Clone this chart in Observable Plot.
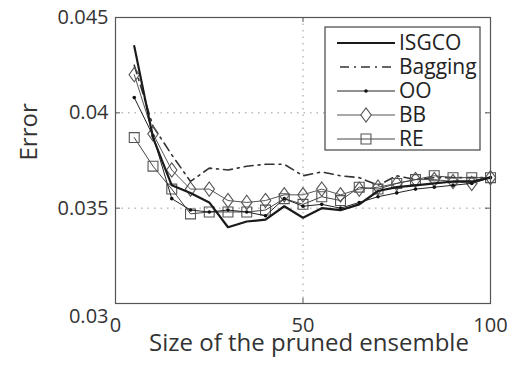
<!DOCTYPE html>
<html><head><meta charset="utf-8">
<script src="https://cdn.jsdelivr.net/npm/d3@7"></script>
<script src="https://cdn.jsdelivr.net/npm/@observablehq/plot@0.6"></script>
<style>body{margin:0;background:#fff;}</style>
</head><body><div id="chart"></div>
<script>
const sizes   = [5,10,15,20,25,30,35,40,45,50,55,60,65,70,75,80,85,90,95,100];
const ISGCO   = [0.0435,0.0387,0.0362,0.0358,0.0353,0.0340,0.0343,0.0344,0.0351,0.0345,0.0350,0.0349,0.0352,0.0359,0.0361,0.0362,0.0363,0.0364,0.0364,0.0366];
const Bagging = [0.0425,0.0393,0.0378,0.0364,0.0371,0.0370,0.0372,0.0373,0.0373,0.0367,0.0369,0.0367,0.0366,0.0362,0.0367,0.0365,0.0366,0.0366,0.0366,0.0366];
const OO      = [0.0408,0.0388,0.0355,0.0349,0.0348,0.0349,0.0348,0.0346,0.0355,0.0351,0.0352,0.0350,0.0353,0.0356,0.0358,0.0360,0.0361,0.0362,0.0363,0.0366];
const BB      = [0.0420,0.0389,0.0370,0.0360,0.0360,0.0354,0.0353,0.0354,0.0357,0.0357,0.0360,0.0357,0.0360,0.0361,0.0363,0.0365,0.0365,0.0364,0.0363,0.0366];
const RE      = [0.0387,0.0372,0.0360,0.0347,0.0348,0.0348,0.0348,0.0349,0.0355,0.0352,0.0356,0.0354,0.0361,0.0360,0.0363,0.0365,0.0367,0.0366,0.0366,0.0366];
const seriesNames = ["ISGCO","Bagging","OO","BB","RE"];
const xTicks = [0,50,100];
const yTicks = [0.03,0.035,0.04,0.045];
const xLabel = "Size of the pruned ensemble";
const yLabel = "Error";

const rows = (name, vals) => sizes.map((x,i)=>({x, y: vals[i], s: name}));
const dISG = rows("ISGCO", ISGCO), dBag = rows("Bagging", Bagging), dOO = rows("OO", OO), dBB = rows("BB", BB), dRE = rows("RE", RE);

const W=523, H=370, mL=115, mR=33, mT=17, mB=67;
const ph = H-mT-mB, pw = W-mL-mR;
const FONT = "'Open Sans', sans-serif";
const diamond = {draw(ctx, size){ const r=Math.sqrt(size/Math.PI); const w=r*0.95, h=r*1.3; ctx.moveTo(0,-h); ctx.lineTo(w,0); ctx.lineTo(0,h); ctx.lineTo(-w,0); ctx.closePath(); }};
const square = {draw(ctx, size){ const r=Math.sqrt(size/Math.PI)*0.9; ctx.moveTo(-r,-r); ctx.lineTo(r,-r); ctx.lineTo(r,r); ctx.lineTo(-r,r); ctx.closePath(); }};
const fmt = d => String(+d.toFixed(3));

const chart = Plot.plot({
  width: W, height: H, marginLeft: mL, marginRight: mR, marginTop: mT, marginBottom: mB,
  x: {domain: [0,100]},
  y: {domain: [0.03,0.045]},
  style: {fontFamily: FONT, fontSize: "20px", color: "#333", background: "#fff", overflow: "visible"},
  marks: [
    Plot.ruleX(xTicks.slice(1,-1), {stroke:"#999", strokeDasharray:"1.5,5"}),
    Plot.ruleY(yTicks.slice(1,-1), {stroke:"#999", strokeDasharray:"1.5,5"}),
    Plot.line(dBag, {x:"x", y:"y", stroke:"#333", strokeWidth:1.6, strokeDasharray:"9,5,2,5"}),
    Plot.line(dBB, {x:"x", y:"y", stroke:"#555", strokeWidth:1}),
    Plot.dot(dBB, {x:"x", y:"y", symbol: diamond, r:5.5, stroke:"#555", fill:"none", strokeWidth:1.1}),
    Plot.line(dRE, {x:"x", y:"y", stroke:"#444", strokeWidth:1}),
    Plot.dot(dRE, {x:"x", y:"y", symbol: square, r:5.5, stroke:"#555", fill:"none", strokeWidth:1.1}),
    Plot.line(dOO, {x:"x", y:"y", stroke:"#222", strokeWidth:1}),
    Plot.dot(dOO, {x:"x", y:"y", r:1.8, fill:"#111", stroke:"none"}),
    Plot.line(dISG, {x:"x", y:"y", stroke:"#1a1a1a", strokeWidth:2.2}),
    Plot.frame({stroke:"#555", strokeWidth:1.2}),
    Plot.tickX(xTicks, {x:d=>d, insetTop: ph-5, stroke:"#555"}),
    Plot.tickX(xTicks, {x:d=>d, insetBottom: ph-5, stroke:"#555"}),
    Plot.tickY(yTicks, {y:d=>d, insetRight: pw-5, stroke:"#555"}),
    Plot.tickY(yTicks, {y:d=>d, insetLeft: pw-5, stroke:"#555"}),
    Plot.axisX({ticks: xTicks, tickSize: 0, tickPadding: 14, fontSize: 20, label: null}),
    Plot.axisY({ticks: yTicks.slice(1), tickSize: 0, tickPadding: 7, fontSize: 20, tickFormat: fmt, label: null}),
    Plot.axisY({ticks: yTicks.slice(0,1), tickSize: 0, tickPadding: 7, fontSize: 20, tickFormat: fmt, label: null, dy: 13}),
    Plot.text([xLabel], {text: d=>d, frameAnchor:"bottom", dy: 47, dx: 6, fontSize: 24, fill:"#333"}),
    Plot.text([yLabel], {text: d=>d, frameAnchor:"left", rotate: -90, dx: -86, fontSize: 24, fill:"#333"})
  ]
});
document.getElementById("chart").appendChild(chart);

// in-plot legend box
const svg = d3.select(chart);
const lg = svg.append("g").attr("font-family", FONT).attr("font-size", 21).attr("fill", "#222").attr("text-anchor", "start");
lg.append("rect").attr("x", 325).attr("y", 27).attr("width", 155).attr("height", 123)
  .attr("fill", "#fff").attr("stroke", "#444").attr("stroke-width", 1.2);
const styles = {
  ISGCO: {w:2.2, dash:null, c:"#1a1a1a"},
  Bagging: {w:1.6, dash:"9,5,2,5", c:"#333"},
  OO: {w:1, dash:null, c:"#222"},
  BB: {w:1, dash:null, c:"#555"},
  RE: {w:1, dash:null, c:"#444"}
};
seriesNames.forEach((name, i) => {
  const y = 43 + 24*i, st = styles[name];
  const ln = lg.append("line").attr("x1", 337).attr("x2", 395).attr("y1", y).attr("y2", y)
    .attr("stroke", st.c).attr("stroke-width", st.w);
  if (st.dash) ln.attr("stroke-dasharray", st.dash).attr("stroke-dashoffset", -3);
  if (name === "OO") lg.append("circle").attr("cx", 366).attr("cy", y).attr("r", 1.8).attr("fill", "#111");
  if (name === "BB") lg.append("path").attr("d", d3.symbol(diamond, Math.PI*5.5*5.5)()).attr("transform", `translate(366,${y})`).attr("fill", "#fff").attr("stroke", "#555").attr("stroke-width", 1.1);
  if (name === "RE") lg.append("path").attr("d", d3.symbol(square, Math.PI*5.5*5.5)()).attr("transform", `translate(366,${y})`).attr("fill", "none").attr("stroke", "#555").attr("stroke-width", 1.1);
  lg.append("text").attr("x", 399).attr("y", y).attr("dy", "0.35em").attr("text-anchor", "start").text(name);
});
</script>
</body></html>
